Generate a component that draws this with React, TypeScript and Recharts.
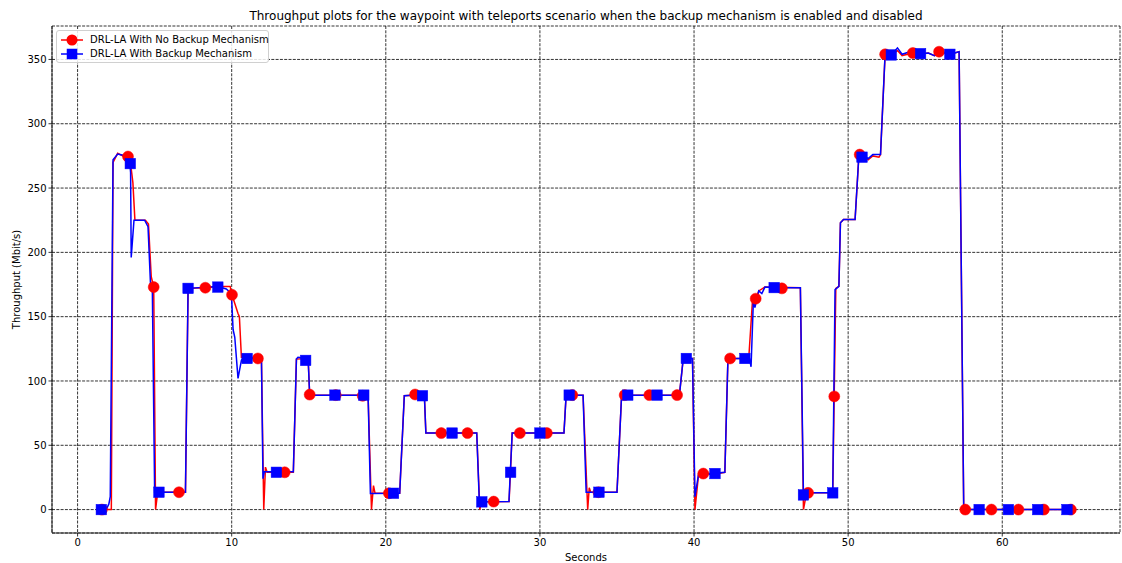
import React from 'react';
import { ComposedChart, Line, XAxis, YAxis, CartesianGrid } from 'recharts';

const titleText = 'Throughput plots for the waypoint with teleports scenario when the backup mechanism is enabled and disabled';
const xLabel = 'Seconds';
const yLabel = 'Throughput (Mbit/s)';
const seriesNames = ['DRL-LA With No Backup Mechanism', 'DRL-LA With Backup Mechanism'];

const xTicks = [0, 10, 20, 30, 40, 50, 60];
const yTicks = [0, 50, 100, 150, 200, 250, 300, 350];

// DRL-LA With No Backup Mechanism: [seconds, Mbit/s]
const noBackupLine: [number, number][] = [
  [1.5, 0], [2.19, 0], [2.3, 270], [2.6, 277], [2.95, 275], [3.27, 274.5], [3.45, 268], [3.59, 254], [3.72, 225],
  [4.4, 225], [4.6, 222], [4.78, 181], [4.94, 173], [5.06, 0], [5.2, 13.5], [7.0, 13.5], [7.17, 172], [8.3, 172.5],
  [9.1, 173.5], [9.9, 173.5], [10.02, 167], [10.41, 152.5], [10.5, 150], [10.63, 118.5], [11.93, 117.5], [12.08, 0],
  [12.19, 33], [12.3, 29], [14.0, 29], [14.2, 117], [14.96, 117.5], [15.06, 89], [18.85, 89], [19.07, 0], [19.2, 18.7],
  [19.3, 12.7], [20.9, 12.7], [21.2, 88.5], [22.5, 89.5], [22.6, 59.5], [25.9, 59.5], [26.1, 0], [26.2, 6], [28.0, 6.2],
  [28.2, 59.5], [31.56, 59.5], [31.7, 89], [32.8, 89], [33.1, 0], [33.2, 17], [33.3, 13.5], [35.0, 13.5], [35.3, 89],
  [39.05, 89], [39.3, 117.5], [39.9, 117.5], [40.06, 0], [40.3, 28], [40.8, 28.5], [41.3, 27.5], [42.0, 29], [42.2, 117.5],
  [43.55, 117.5], [43.8, 164], [44.0, 164], [44.2, 170], [44.6, 173], [46.9, 172.5], [47.1, 0], [47.3, 13], [49.0, 13],
  [49.2, 172], [49.4, 173.5], [49.5, 223], [49.7, 225.5], [50.45, 225.5], [50.7, 276], [51.0, 275], [51.3, 272],
  [51.6, 275], [52.0, 274], [52.1, 276], [52.4, 354], [52.8, 353], [53.2, 357], [53.5, 353], [54.2, 355], [54.7, 354],
  [55.2, 355], [55.6, 353], [55.9, 356], [56.6, 354], [57.2, 356], [57.5, 0], [64.8, 0],
];

// DRL-LA With Backup Mechanism: [seconds, Mbit/s]
const backupLine: [number, number][] = [
  [1.5, 0], [1.86, 0], [2.03, 4.4], [2.12, 10], [2.3, 272], [2.6, 276.5], [2.95, 275.5], [3.38, 271], [3.44, 262],
  [3.48, 196], [3.66, 225], [4.35, 225], [4.57, 220], [4.74, 173], [4.85, 172], [5.0, 13.5], [7.0, 13.5], [7.17, 172],
  [9.1, 173.5], [9.65, 171.5], [9.98, 168], [10.09, 140], [10.2, 134], [10.41, 102], [10.63, 116], [10.75, 118],
  [11.93, 117.5], [12.03, 24], [12.12, 29.5], [14.0, 29.5], [14.2, 117], [14.3, 118.5], [14.96, 117.5], [15.06, 89],
  [18.85, 89], [19.0, 12.5], [20.9, 12.7], [21.2, 88.5], [22.5, 89.5], [22.6, 59.5], [25.9, 59.5], [26.08, 2],
  [26.15, 6], [27.99, 6.2], [28.2, 59.5], [31.56, 59.5], [31.7, 89], [32.8, 89], [33.0, 13.5], [35.0, 13.5], [35.3, 89],
  [39.05, 89], [39.3, 117.5], [39.9, 117.5], [40.06, 10], [40.3, 28], [40.6, 29], [41.0, 27.5], [41.5, 28.5], [42.0, 29],
  [42.2, 117.5], [43.6, 117.5], [43.7, 111], [43.85, 162], [43.95, 157], [44.2, 170], [44.4, 168], [44.6, 173],
  [45.5, 172.5], [46.9, 172.5], [47.1, 11.4], [47.5, 13], [49.0, 13], [49.15, 171], [49.4, 173.5], [49.5, 223],
  [49.7, 225.5], [50.45, 225.5], [50.7, 276], [51.0, 275], [51.3, 273], [51.6, 276], [52.1, 276], [52.4, 355],
  [52.8, 353.5], [53.2, 359], [53.5, 354], [54.0, 356], [54.3, 357], [54.7, 354.5], [55.2, 355], [55.6, 353],
  [56.0, 356], [56.6, 354], [57.2, 356], [57.5, 0], [64.8, 0],
];

const noBackupMarkers: [number, number][] = [
  [1.58, 0], [3.27, 274.5], [4.94, 173], [6.58, 13.5], [8.29, 172.5], [10.02, 167], [11.7, 117.5], [13.44, 29],
  [15.06, 89.4], [16.75, 89], [18.5, 88.5], [20.2, 12.7], [21.9, 89.5], [23.6, 59.5], [25.3, 59.5], [27.0, 6.2],
  [28.7, 59.5], [30.45, 59.5], [32.1, 89], [33.8, 13.5], [35.5, 89], [37.1, 89], [38.9, 89], [40.6, 28],
  [42.34, 117.5], [44.0, 164], [45.7, 172], [47.4, 13], [49.1, 88], [50.75, 276], [52.4, 354], [54.2, 355],
  [55.9, 356], [57.6, 0], [59.3, 0], [61.05, 0], [62.7, 0], [64.45, 0],
];

const backupMarkers: [number, number][] = [
  [1.54, 0], [3.42, 269], [5.28, 13.5], [7.17, 172], [9.1, 173], [11.0, 117.5], [12.9, 29], [14.8, 116], [16.7, 89],
  [18.57, 89], [20.5, 12.7], [22.38, 88.5], [24.3, 59.5], [26.23, 6], [28.1, 29], [30.0, 59.5], [31.9, 89],
  [33.83, 13.5], [35.7, 89], [37.6, 89], [39.5, 117.5], [41.36, 28], [43.3, 117.5], [45.2, 172.6], [47.1, 11.4],
  [49.0, 13], [50.9, 274], [52.8, 353.5], [54.7, 354.5], [56.6, 354], [58.5, 0], [60.4, 0], [62.3, 0], [64.2, 0],
];

const toRows = (pts: [number, number][]) => pts.map(([x, y]) => ({ x, y }));

const RED = '#ff0000';
const BLUE = '#0000ff';
const FONT = 'DejaVu Sans';
const X_DOMAIN: [number, number] = [-1.66, 67.64];
const Y_DOMAIN: [number, number] = [-18.2, 376];

const circleDot = (p: any) => (
  <circle key={`c${p.index}`} cx={p.cx} cy={p.cy} r={5.5} fill={RED} stroke={RED} strokeWidth={0.5} />
);
const squareDot = (p: any) => (
  <rect key={`s${p.index}`} x={p.cx - 5.25} y={p.cy - 5.25} width={10.5} height={10.5} fill={BLUE} stroke={BLUE} strokeWidth={0.5} />
);

const tickStyle = { fontSize: 10, fontFamily: FONT, fill: '#000' };

const LegendBox = () => (
  <div
    style={{
      position: 'absolute', left: 56, top: 30, width: 213, height: 33, boxSizing: 'border-box',
      border: '1px solid #d0d0d0', borderRadius: 3, background: 'rgba(255,255,255,0.85)',
      fontFamily: FONT, fontSize: 10, color: '#000',
    }}
  >
    {seriesNames.map((name, i) => (
      <div key={name} style={{ position: 'absolute', left: 3, top: i === 0 ? 2 : 16, height: 14, display: 'flex', alignItems: 'center' }}>
        <svg width={24} height={14} style={{ display: 'block' }}>
          <line x1={1} y1={7} x2={23} y2={7} stroke={i === 0 ? RED : BLUE} strokeWidth={1.5} />
          {i === 0 ? (
            <circle cx={12} cy={7} r={5.5} fill={RED} />
          ) : (
            <rect x={6.75} y={1.75} width={10.5} height={10.5} fill={BLUE} />
          )}
        </svg>
        <span style={{ marginLeft: 6, whiteSpace: 'nowrap', lineHeight: '14px' }}>{name}</span>
      </div>
    ))}
  </div>
);

export default function App() {
  return (
    <div style={{ position: 'absolute', left: 0, top: 0, width: 1122, height: 563, background: '#fff' }}>
      <div
        style={{
          position: 'absolute', left: 52, top: 9, width: 1068, textAlign: 'center',
          fontFamily: FONT, fontSize: 12, lineHeight: '15px', color: '#000', whiteSpace: 'nowrap',
        }}
      >
        {titleText}
      </div>
      <ComposedChart width={1122} height={563} margin={{ top: 26, right: 2, bottom: 0, left: 0 }}>
        <CartesianGrid stroke="#000" strokeWidth={0.8} strokeDasharray="3 1.3" />
        <XAxis
          dataKey="x" type="number" domain={X_DOMAIN} ticks={xTicks} allowDataOverflow height={30}
          tick={tickStyle} tickSize={3.5} tickMargin={2}
          axisLine={{ stroke: '#000', strokeWidth: 0.8 }} tickLine={{ stroke: '#000', strokeWidth: 0.8 }}
          label={{
            content: () => (
              <text x={586} y={557} textAnchor="middle" dominantBaseline="central" fontSize={10} fontFamily={FONT} fill="#000">
                {xLabel}
              </text>
            ),
          }}
        />
        <XAxis
          xAxisId="top" orientation="top" type="number" domain={X_DOMAIN} allowDataOverflow height={0}
          tick={false} tickLine={false} axisLine={{ stroke: '#000', strokeWidth: 0.8 }}
        />
        <YAxis
          type="number" domain={Y_DOMAIN} ticks={yTicks} allowDataOverflow width={52}
          tick={tickStyle} tickSize={3.5} tickMargin={2}
          axisLine={{ stroke: '#000', strokeWidth: 0.8 }} tickLine={{ stroke: '#000', strokeWidth: 0.8 }}
          label={{
            content: () => (
              <text x={16} y={279.5} transform="rotate(-90 16 279.5)" textAnchor="middle" dominantBaseline="central" fontSize={10} fontFamily={FONT} fill="#000">
                {yLabel}
              </text>
            ),
          }}
        />
        <YAxis
          yAxisId="right" orientation="right" type="number" domain={Y_DOMAIN} allowDataOverflow width={0}
          tick={false} tickLine={false} axisLine={{ stroke: '#000', strokeWidth: 0.8 }}
        />
        <Line data={toRows(noBackupLine)} dataKey="y" type="linear" stroke={RED} strokeWidth={1.5} dot={false} activeDot={false} isAnimationActive={false} />
        <Line data={toRows(noBackupMarkers)} dataKey="y" type="linear" stroke="none" dot={circleDot} activeDot={false} isAnimationActive={false} />
        <Line data={toRows(backupLine)} dataKey="y" type="linear" stroke={BLUE} strokeWidth={1.5} dot={false} activeDot={false} isAnimationActive={false} />
        <Line data={toRows(backupMarkers)} dataKey="y" type="linear" stroke="none" dot={squareDot} activeDot={false} isAnimationActive={false} />
      </ComposedChart>
      <LegendBox />
    </div>
  );
}
